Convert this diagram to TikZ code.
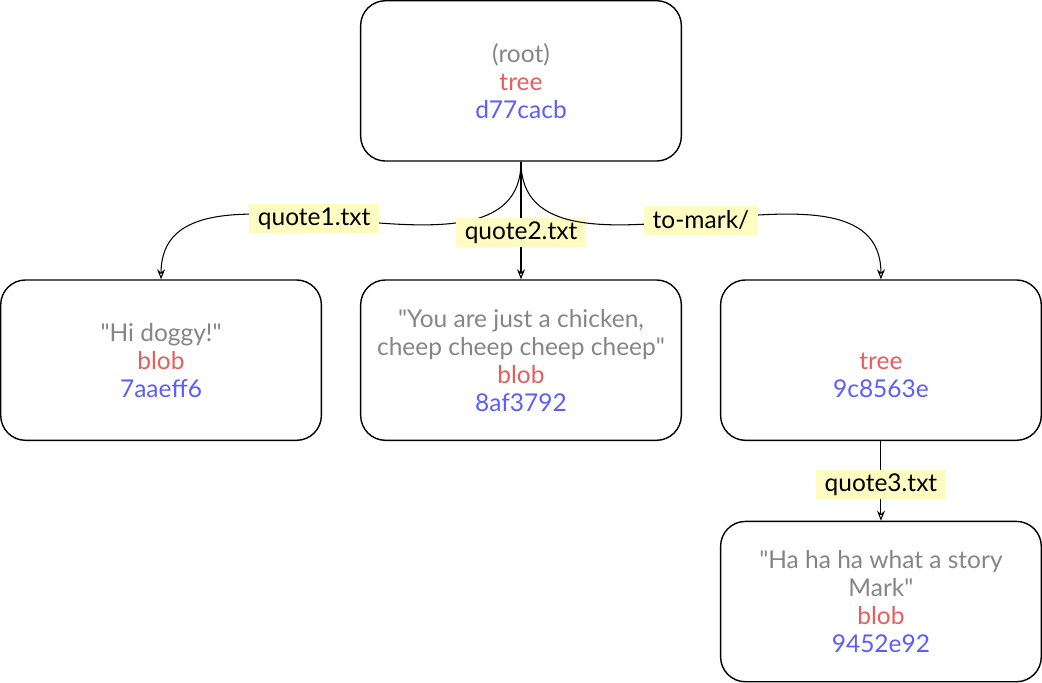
\documentclass[tikz,border=0pt]{standalone}
\usepackage{fontspec}
\setmainfont{Lato}
\usetikzlibrary{positioning, arrows.meta}

\definecolor{txtgray}{HTML}{858585}
\definecolor{objred}{HTML}{E85C5C}
\definecolor{objblue}{HTML}{5C5CFF}
\definecolor{tagyellow}{HTML}{FFFCC2}
\newcommand{\quotetxt}[1]{\textcolor{txtgray}{#1}}
\newcommand{\objtype}[1]{\textcolor{objred}{#1}}
\newcommand{\objhash}[1]{\textcolor{objblue}{#1}}
\newcommand{\qq}{\textquotedbl}

\begin{document}
\begin{tikzpicture}[
    node distance=2.36cm and 0.76cm,
    obj/.style={draw, rounded corners=0.5cm, line width=0.8pt, minimum width=6.44cm, minimum height=3.22cm, align=center, font=\fontsize{14}{16}\selectfont},
    tag/.style={fill=tagyellow, inner xsep=0.18cm, inner ysep=0pt, minimum height=0.58cm, font=\fontsize{14}{16}\selectfont},
    arr/.style={-{Stealth[open, length=2mm, width=1.6mm]}, line width=0.6pt},
]

% Middle row: blobs and the subtree
\node[obj] (quote2) {\quotetxt{\qq You are just a chicken,}\\\quotetxt{cheep cheep cheep cheep\qq}\\\objtype{blob}\\\objhash{8af3792}};
\node[obj, left=of quote2] (quote1) {\quotetxt{\qq Hi doggy!\qq}\\\objtype{blob}\\\objhash{7aaeff6}};
\node[obj, right=of quote2] (mark) {\strut\\\objtype{tree}\\\objhash{9c8563e}};

% Root tree on top, nested blob below
\node[obj, above=of quote2] (root) {\quotetxt{(root)}\\\objtype{tree}\\\objhash{d77cacb}};
\node[obj, below=1.6cm of mark] (quote3) {\quotetxt{\qq Ha ha ha what a story}\\\quotetxt{Mark\qq}\\\objtype{blob}\\\objhash{9452e92}};

% Edges
\draw[arr] (root.south) to[out=-90, in=90] node[tag, pos=0.55] {quote1.txt} (quote1.north);
\draw[arr] (root.south) -- node[tag, pos=0.6] {quote2.txt} (quote2.north);
\draw[arr] (root.south) to[out=-90, in=90] node[tag, pos=0.5] {to-mark/} (mark.north);
\draw[arr] (mark.south) -- node[tag, pos=0.55] {quote3.txt} (quote3.north);

\pgfresetboundingbox
\path[use as bounding box] (quote1.west |- root.north) rectangle (mark.east |- quote3.south);
\end{tikzpicture}
\end{document}
